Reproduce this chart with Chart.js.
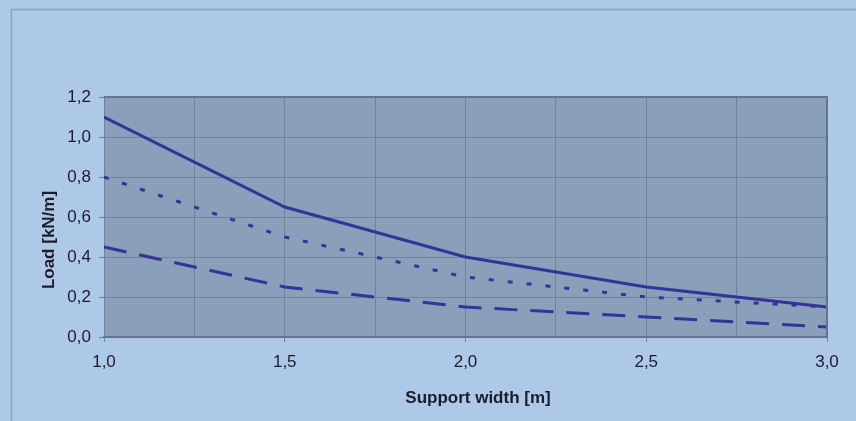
<!DOCTYPE html>
<html>
<head>
<meta charset="utf-8">
<script src="https://cdn.jsdelivr.net/npm/chart.js@4.4.0/dist/chart.umd.min.js"></script>
<style>
  html, body { margin: 0; padding: 0; background: #aec8e8; }
  #wrap { width: 856px; height: 421px; }
</style>
</head>
<body>
<div id="wrap"><canvas id="chart" width="856" height="421"></canvas></div>
<script>
// data
const supportWidth = [1.0, 1.5, 2.0, 2.5, 3.0];
const loadSolid    = [1.10, 0.65, 0.40, 0.25, 0.15];
const loadDotted   = [0.80, 0.50, 0.30, 0.20, 0.15];
const loadDashed   = [0.45, 0.25, 0.15, 0.10, 0.05];
const xTitle = 'Support width [m]';
const yTitle = 'Load [kN/m]';

const C = {
  bg: '#aec8e8', plot: '#8a9fba', grid: '#71839b', edge: '#63758e',
  frame: '#8ba1bf', line: '#333399', text: '#1c1c2a'
};
const FONT = '"Liberation Sans", Arial, sans-serif';

const fmt = v => v.toFixed(1).replace('.', ',');
const isHalf = v => Math.abs(Math.round(v * 2) - v * 2) < 1e-6;

// plot background, outer frame, top/right edge and the axis titles
const decor = {
  id: 'decor',
  beforeDraw(chart) {
    const { ctx, chartArea: a } = chart;
    ctx.save();
    ctx.fillStyle = C.bg;
    ctx.fillRect(0, 0, chart.width, chart.height);
    ctx.strokeStyle = C.frame;
    ctx.lineWidth = 1.5;
    ctx.strokeRect(11.5, 9.5, chart.width + 20, chart.height + 20);
    ctx.fillStyle = C.plot;
    ctx.fillRect(a.left, a.top, a.right - a.left, a.bottom - a.top);
    ctx.restore();
  },
  afterDraw(chart) {
    const { ctx, chartArea: a } = chart;
    ctx.save();
    ctx.strokeStyle = C.edge;
    ctx.lineWidth = 2;
    ctx.beginPath();
    ctx.moveTo(a.left, a.top);
    ctx.lineTo(a.right, a.top);
    ctx.lineTo(a.right, a.bottom);
    ctx.stroke();

    ctx.fillStyle = C.text;
    ctx.font = 'bold 17px ' + FONT;
    ctx.textAlign = 'center';
    ctx.textBaseline = 'middle';
    ctx.fillText(xTitle, 478, 398);
    ctx.translate(49, 240);
    ctx.rotate(-Math.PI / 2);
    ctx.fillText(yTitle, 0, 0);
    ctx.restore();
  }
};

const lineStyle = { borderColor: C.line, borderWidth: 3, pointRadius: 0, tension: 0, fill: false };

new Chart(document.getElementById('chart').getContext('2d'), {
  type: 'line',
  data: {
    datasets: [
      { ...lineStyle, data: supportWidth.map((x, i) => ({ x, y: loadSolid[i] })) },
      { ...lineStyle, borderDash: [5, 14], data: supportWidth.map((x, i) => ({ x, y: loadDotted[i] })) },
      { ...lineStyle, borderDash: [23, 13], data: supportWidth.map((x, i) => ({ x, y: loadDashed[i] })) }
    ]
  },
  options: {
    responsive: false,
    animation: false,
    layout: { padding: { top: 97, right: 29, left: 0, bottom: 0 } },
    plugins: { legend: { display: false }, tooltip: { enabled: false } },
    scales: {
      x: {
        type: 'linear', min: 1, max: 3,
        afterFit: s => { s.height = 84; },
        ticks: {
          stepSize: 0.25, autoSkip: false, maxRotation: 0, padding: 10,
          color: C.text, font: { family: FONT, size: 17 },
          callback: v => isHalf(v) ? fmt(v) : ''
        },
        grid: {
          color: C.grid, lineWidth: 1, tickLength: 5,
          tickColor: ctx => isHalf(ctx.tick.value) ? C.grid : 'rgba(0,0,0,0)'
        },
        border: { color: C.edge, width: 2 }
      },
      y: {
        min: 0, max: 1.2,
        afterFit: s => { s.width = 104; },
        ticks: {
          stepSize: 0.2, padding: 8,
          color: C.text, font: { family: FONT, size: 17 },
          callback: v => fmt(v)
        },
        grid: { color: C.grid, lineWidth: 1, tickLength: 5, tickColor: C.grid },
        border: { color: C.grid, width: 1 }
      }
    }
  },
  plugins: [decor]
});
</script>
</body>
</html>
